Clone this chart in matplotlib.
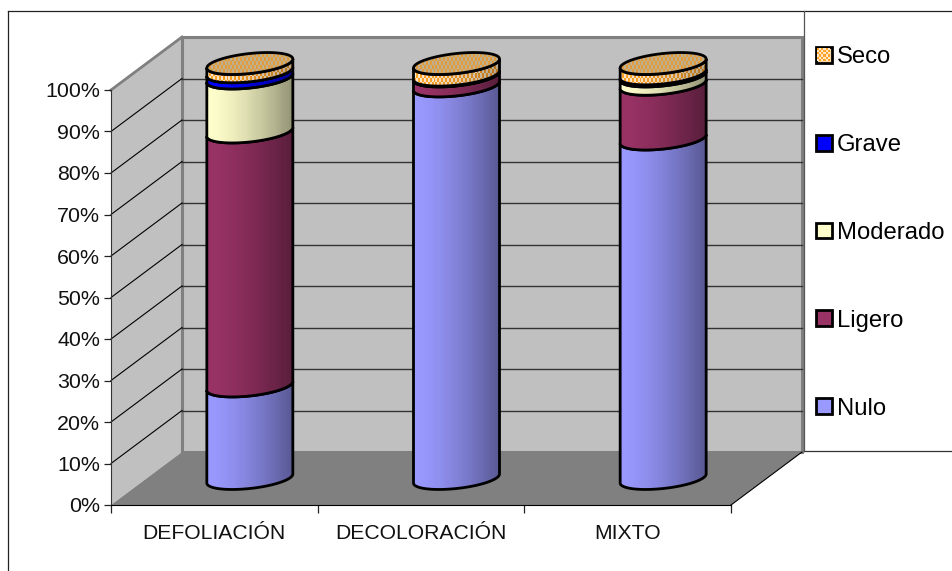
#Stacked 100% cylinders on a 3D looking box, drawn on plain 2D axes

from matplotlib import pyplot as plt
from matplotlib.colors import to_rgb
from matplotlib.lines import Line2D
from matplotlib.patches import Patch, PathPatch, Polygon
from matplotlib.path import Path
import numpy as np

plt.rcParams['font.family'] = ['Liberation Sans', 'DejaVu Sans']

#the data
categories = ['DEFOLIACIÓN', 'DECOLORACIÓN', 'MIXTO']
series = ['Nulo', 'Ligero', 'Moderado', 'Grave', 'Seco']
nulo = [22.3, 94.6, 81.8]
ligero = [61.2, 2.4, 13.2]
moderado = [13.0, 0.1, 2.0]
grave = [1.5, 0.1, 0.5]
seco = [2.0, 2.8, 2.5]
y_ticks = [0, 10, 20, 30, 40, 50, 60, 70, 80, 90, 100]
y_tick_labels = ['0%', '10%', '20%', '30%', '40%', '50%', '60%', '70%', '80%', '90%', '100%']

#colours
colors = {'Nulo': '#9999ff', 'Ligero': '#993366', 'Moderado': '#ffffcc', 'Grave': '#0000ff'}
wall_color = '#c0c0c0'
floor_color = '#808080'

W, H = 953, 571
x_scale = 620 / 3      #pixels per category
y_scale = 4.15         #pixels per percent
dx = 71 / x_scale      #depth of the box
dy = 53 / y_scale
rx = 43 / x_scale      #cylinder radius
ry = 10 / y_scale
tilt = 4.5 / y_scale   #ellipses lean up to the right

fig = plt.figure(figsize=(W / 100, H / 100), dpi=100)
ax = fig.add_axes([111 / W, (H - 505) / H, 620 / W, 415 / H])
ax.set_xlim(0, 3)
ax.set_ylim(0, 100)
ax.autoscale(False)
ax.patch.set_visible(False)


def ellipse_points(cx, cy, t):
    return np.column_stack([cx + rx * np.cos(t), cy + ry * np.sin(t) + tilt * np.cos(t)])


def gradient_image(color, n=40):
    #left to right darkening of the cylinder
    t = np.linspace(0, 1, n)
    return (1 - 0.42 * t ** 1.5)[None, :, None] * np.array(to_rgb(color))


def checker(c1, c2, cols, rows, fade=True):
    #small two colour pattern used for the Seco segments
    yy, xx = np.mgrid[0:rows, 0:cols]
    mask = ((xx // 2 + yy // 2) % 2 == 0)[:, :, None]
    img = np.where(mask, np.array(to_rgb(c1)), np.array(to_rgb(c2)))
    if fade:
        img = img * (1 - 0.3 * (xx / cols) ** 1.5)[:, :, None]
    return img


def clipped_image(img, extent, path, zorder):
    im = ax.imshow(img, extent=extent, aspect='auto', interpolation='nearest', zorder=zorder)
    #the cylinders go above the axes box, so clip only to their own outline
    im.set_clip_box(fig.bbox)
    im.set_clip_path(PathPatch(path, transform=ax.transData))
    return im


#box: side wall, back wall and floor
ax.add_patch(Polygon([(0, 0), (dx, dy), (dx, 100 + dy), (0, 100)], closed=True,
                     facecolor=wall_color, edgecolor='none', clip_on=False, zorder=1))
ax.add_patch(Polygon([(dx, dy), (3 + dx, dy), (3 + dx, 100 + dy), (dx, 100 + dy)], closed=True,
                     facecolor=wall_color, edgecolor=floor_color, linewidth=2.2, clip_on=False, zorder=1))
ax.plot([0, dx], [100, 100 + dy], color=floor_color, linewidth=2, clip_on=False, zorder=1)
ax.add_patch(Polygon([(0, 0), (3, 0), (3 + dx, dy), (dx, dy)], closed=True,
                     facecolor=floor_color, edgecolor='none', clip_on=False, zorder=2))
ax.plot([3, 3 + dx], [0, dy], color='black', linewidth=0.8, clip_on=False, zorder=2)

#gridlines on the walls
for v in y_ticks[1:]:
    if v < 100:
        ax.plot([dx, 3 + dx], [v + dy, v + dy], color='#333333', linewidth=1, clip_on=False, zorder=2)
        ax.plot([0, dx], [v, v + dy], color='black', linewidth=0.8, clip_on=False, zorder=2)

#the cylinders
stack = np.array([nulo, ligero, moderado, grave, seco])
tops = np.cumsum(stack, axis=0)
front = np.linspace(np.pi, 2 * np.pi, 60)
z = 4
for i in range(len(categories)):
    cx = i + 0.5 + dx / 2
    lows = [0] + list(tops[:-1, i])
    for j, name in enumerate(series):
        y0 = lows[j] + dy / 2
        y1 = tops[j, i] + dy / 2
        bottom = ellipse_points(cx, y0, front)
        top = ellipse_points(cx, y1, front)[::-1]
        path = Path(np.vstack([bottom, top, bottom[:1]]), closed=True)
        if name == 'Seco':
            img = checker('#ffa428', '#ffe8c8', 88, 24)
        else:
            img = gradient_image(colors[name])
        clipped_image(img, [cx - rx, cx + rx, y0 - 5, y1 + 5], path, z)
        ax.add_patch(PathPatch(path, facecolor='none', edgecolor='black', linewidth=2.0,
                               clip_on=False, zorder=z + 1))
        z += 2
    #lid of the cylinder
    y1 = tops[-1, i] + dy / 2
    lid_path = Path(ellipse_points(cx, y1, np.linspace(0, 2 * np.pi, 120)), closed=True)
    clipped_image(checker('#e09c3c', '#c0b090', 88, 26, fade=False),
                  [cx - rx, cx + rx, y1 - 6, y1 + 6], lid_path, z)
    ax.add_patch(PathPatch(lid_path, facecolor='none', edgecolor='black', linewidth=2.0,
                           clip_on=False, zorder=z + 1))
    z += 2

#axes
ax.set_yticks(y_ticks)
ax.set_yticklabels(y_tick_labels, fontsize=15.4, color='#111111')
ax.set_xticks([0, 1, 2, 3])
ax.set_xticklabels([])
ax.set_xticks([0.5, 1.5, 2.5], minor=True)
ax.set_xticklabels(categories, minor=True, fontsize=15.2, color='#111111')
ax.tick_params(axis='y', length=5, width=0.9, pad=3, color='#222222')
ax.tick_params(axis='x', which='major', length=6, width=0.9, color='#222222')
ax.tick_params(axis='x', which='minor', length=0, pad=14)
ax.spines['top'].set_visible(False)
ax.spines['right'].set_visible(False)
ax.spines['left'].set_color('#333333')
ax.spines['bottom'].set_color('black')
ax.spines['left'].set_zorder(3)
ax.spines['bottom'].set_zorder(3)

#legend, last series on top
handles = [Patch(facecolor='#ffd8a0' if s == 'Seco' else colors[s], edgecolor='black', linewidth=2)
           for s in series[::-1]]
leg = ax.legend(handles, series[::-1], loc='upper left', bbox_to_anchor=(816 / W, (H - 46) / H),
                bbox_transform=fig.transFigure, frameon=False, fontsize=17.2, labelspacing=2.76,
                handlelength=0.65, handleheight=0.65, handletextpad=0.22, borderpad=0, borderaxespad=0)

#the Seco key gets the same pattern as its segments
fig.canvas.draw()
key = leg.get_patches()[0].get_window_extent()
(k0, j0), (k1, j1) = ax.transData.inverted().transform([(key.x0 + 1.5, key.y0 + 1.5), (key.x1 - 1.5, key.y1 - 1.5)])
key_im = ax.imshow(checker('#ffa428', '#ffe8c8', 12, 12, fade=False), extent=[k0, k1, j0, j1],
                   aspect='auto', interpolation='nearest', zorder=40)
key_im.set_clip_box(fig.bbox)

#outer frame of the chart and the legend box
for xs, ys, c in [((8, 953), (11, 11), '#222222'), ((8, 8), (11, 571), '#222222'),
                  ((804, 804), (11, 451), '#555555'), ((804, 953), (451, 451), '#333333')]:
    fig.add_artist(Line2D([x / W for x in xs], [1 - y / H for y in ys], color=c, linewidth=0.9))

plt.savefig('out.png', dpi=100)
